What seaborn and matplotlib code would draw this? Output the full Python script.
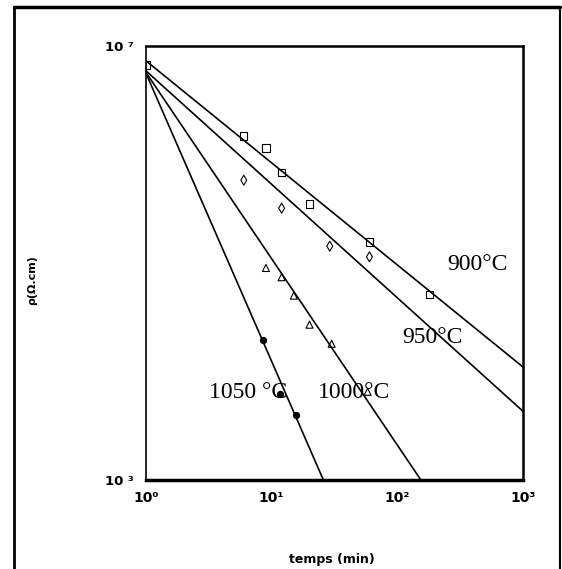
import matplotlib
matplotlib.use("Agg")
import matplotlib.pyplot as plt
import matplotlib.ticker as mticker
from matplotlib.lines import Line2D
import pandas as pd
import seaborn as sns

# Measured points (time in min, resistivity in ohm.cm)
t_900 = [1, 6, 9, 12, 20, 60, 180]
rho_900 = [6.7e6, 1.48e6, 1.15e6, 6.8e5, 3.5e5, 1.56e5, 5.1e4]

t_950 = [6, 12, 29, 60]
rho_950 = [5.8e5, 3.2e5, 1.43e5, 1.14e5]

t_1000 = [9, 12, 15, 20, 30, 58]
rho_1000 = [9.0e4, 7.4e4, 5.0e4, 2.7e4, 1.8e4, 6.5e3]

t_1050 = [8.5, 11.6, 15.5]
rho_1050 = [1.95e4, 6.2e3, 4.0e3]

# Fitted lines, read as their two end points
fit_900_t = [1, 1000]
fit_900_rho = [7.3e6, 1.1e4]
fit_950_t = [1, 1000]
fit_950_rho = [5.9e6, 4.3e3]
fit_1000_t = [1, 154]
fit_1000_rho = [5.7e6, 1.0e3]
fit_1050_t = [1, 25.8]
fit_1050_rho = [5.6e6, 1.0e3]

curve_labels = ["900°C", "950°C", "1000°C", "1050 °C"]
label_t = [430, 192, 45, 6.5]
label_rho = [9.6e4, 2.04e4, 6.47e3, 6.47e3]

x_ticks = [1, 10, 100, 1000]
x_ticklabels = ["10⁰", "10¹", "10²", "10³"]
y_ticks = [1e3, 1e7]
y_ticklabels = ["10 ³", "10 ⁷"]

sns.set_style("white")
plt.rcParams["font.family"] = ["DejaVu Sans"]
plt.rcParams.update({"text.color": "black", "axes.labelcolor": "black",
                     "xtick.color": "black", "ytick.color": "black"})

fig = plt.figure(figsize=(5.62, 5.69), dpi=100)
ax = fig.add_axes([146 / 562, 1 - 480 / 569, 377 / 562, 434 / 569])

fits = [(fit_900_t, fit_900_rho), (fit_950_t, fit_950_rho),
        (fit_1000_t, fit_1000_rho), (fit_1050_t, fit_1050_rho)]
for ft, fr in fits:
    sns.lineplot(x=ft, y=fr, ax=ax, color="black", linewidth=1.2)

series = [
    (t_900, rho_900, "s", "none", 4.2),
    (t_950, rho_950, "d", "none", 4.0),
    (t_1000, rho_1000, "^", "none", 4.0),
    (t_1050, rho_1050, "o", "black", 3.5),
]
for tt, rr, mk, fc, ms in series:
    df = pd.DataFrame({"t": tt, "rho": rr})
    sns.scatterplot(data=df, x="t", y="rho", ax=ax, marker=mk,
                    s=ms ** 2 * 1.6, facecolor=fc, edgecolor="black",
                    linewidth=0.8, zorder=3)

ax.set_xscale("log")
ax.set_yscale("log")
ax.set_xlim(1, 1000)
ax.set_ylim(1e3, 1e7)

for lab, lt, lr in zip(curve_labels, label_t, label_rho):
    ax.text(lt, lr, lab, ha="center", va="center", fontsize=17,
            family="Liberation Serif", color="black")

ax.set_xticks(x_ticks)
ax.set_xticklabels(x_ticklabels, fontsize=10, fontweight="bold")
ax.xaxis.set_minor_locator(mticker.LogLocator(base=10, subs=range(2, 10)))
ax.xaxis.set_minor_formatter(mticker.NullFormatter())
ax.set_yticks(y_ticks)
ax.set_yticklabels(y_ticklabels, fontsize=9.5, fontweight="bold")
ax.yaxis.set_minor_locator(mticker.NullLocator())
ax.tick_params(axis="x", which="major", direction="in", length=5, width=1, pad=8)
ax.tick_params(axis="x", which="minor", direction="in", length=3, width=0.8)
ax.tick_params(axis="y", which="major", direction="in", length=0, pad=9)

ax.set_xlabel("temps (min)", fontsize=9, fontweight="bold")
ax.set_ylabel("ρ(Ω.cm)", fontsize=8, fontweight="bold")
ax.xaxis.set_label_coords(0.493, -0.168)
ax.yaxis.set_label_coords(-0.29, 0.461)

for side, lw in [("top", 1.8), ("left", 1.2), ("right", 1.8), ("bottom", 2.5)]:
    ax.spines[side].set_visible(True)
    ax.spines[side].set_linewidth(lw)
    ax.spines[side].set_color("black")

# outer frame, open at the bottom
fx0, fx1, fy0 = 14 / 562, 560 / 562, 1 - 7 / 569
fig.add_artist(Line2D([fx0, fx0], [0, fy0], transform=fig.transFigure, color="black", lw=2))
fig.add_artist(Line2D([fx0, fx1], [fy0, fy0], transform=fig.transFigure, color="black", lw=2.5))
fig.add_artist(Line2D([fx1, fx1], [0, fy0], transform=fig.transFigure, color="black", lw=1.5))

fig.savefig("out.png", dpi=100)
